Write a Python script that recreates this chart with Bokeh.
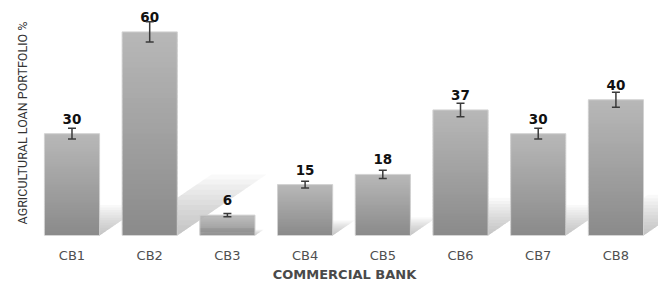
from bokeh.plotting import figure
from bokeh.models import Range1d, FixedTicker, Whisker, ColumnDataSource, TeeHead
from bokeh.core.properties import value
from bokeh.embed import file_html
from bokeh.resources import INLINE

banks = ["CB1", "CB2", "CB3", "CB4", "CB5", "CB6", "CB7", "CB8"]
portfolio = [30, 60, 6, 15, 18, 37, 30, 40]
errors = [1.6, 3.0, 0.5, 1.0, 1.2, 2.0, 1.6, 2.2]

xs = list(range(1, len(banks) + 1))
bar_w = 0.71
x0, x1 = 0.466, 8.548
y1 = 66.3

p = figure(width=658, height=284, output_backend="svg", toolbar_location=None,
           x_range=Range1d(x0, x1), y_range=Range1d(0, y1),
           min_border_left=30, min_border_right=0, min_border_top=10, min_border_bottom=46)
p.outline_line_color = None
p.grid.grid_line_color = None
p.background_fill_color = "white"
p.border_fill_color = "white"

# floor shadows (derived from bar values)
layers = 12
for k in range(1, layers + 1):
    f = k / layers
    sx, sy = [], []
    for x, v in zip(xs, portfolio):
        dx = 1.15 * v / 60 * f
        dy = 0.30 * v * f
        sx.append([x - bar_w / 2, x + bar_w / 2, x + bar_w / 2 + dx, x - bar_w / 2 + dx])
        sy.append([0, 0, dy, dy])
    p.patches(sx, sy, fill_color="#8a8a8a", fill_alpha=0.055, line_color=None)

# gradient bars, built from slices of each value
N = 40
top_c = (184, 184, 184)
bot_c = (138, 138, 138)
qx, qb, qt, qc = [], [], [], []
for x, v in zip(xs, portfolio):
    for j in range(N):
        t = (j + 0.5) / N
        c = tuple(int(round(bot_c[i] + (top_c[i] - bot_c[i]) * t)) for i in range(3))
        qx.append(x)
        qb.append(v * j / N)
        qt.append(min(v, v * (j + 1.6) / N))
        qc.append("#%02x%02x%02x" % c)
p.vbar(x=qx, bottom=qb, top=qt, width=bar_w, fill_color=qc, line_color=None)
p.vbar(x=xs, top=portfolio, width=bar_w, fill_color=None, line_color="#d2d2d2", line_width=1)

src = ColumnDataSource(dict(x=xs, top=portfolio,
                            upper=[v + e for v, e in zip(portfolio, errors)],
                            lower=[v - e for v, e in zip(portfolio, errors)],
                            lab=[str(v) for v in portfolio]))
w = Whisker(base="x", upper="upper", lower="lower", source=src, level="overlay",
            line_color="#3a3a3a", line_width=1.5,
            upper_head=TeeHead(size=8, line_color="#3a3a3a", line_width=1.5),
            lower_head=TeeHead(size=8, line_color="#3a3a3a", line_width=1.5))
p.add_layout(w)

p.text(x="x", y="top", text="lab", source=src, y_offset=-15,
       text_align="center", text_baseline="middle",
       text_font=value("DejaVu Sans"), text_font_style="bold",
       text_font_size="13.5px", text_color="#111111")

# axes
p.xaxis.ticker = FixedTicker(ticks=xs)
p.xaxis.major_label_overrides = {x: b for x, b in zip(xs, banks)}
p.xaxis.axis_line_color = None
p.xaxis.major_tick_line_color = None
p.xaxis.minor_tick_line_color = None
p.xaxis.major_tick_out = 0
p.xaxis.major_tick_in = 0
p.xaxis.major_label_standoff = 12
p.xaxis.major_label_text_font = "DejaVu Sans"
p.xaxis.major_label_text_font_size = "13px"
p.xaxis.major_label_text_color = "#505050"
p.xaxis.axis_label = "COMMERCIAL BANK"
p.xaxis.axis_label_text_font = "DejaVu Sans"
p.xaxis.axis_label_text_font_style = "bold"
p.xaxis.axis_label_text_font_size = "13px"
p.xaxis.axis_label_text_color = "#4a4a4a"
p.xaxis.axis_label_standoff = 1

p.yaxis.ticker = FixedTicker(ticks=[])
p.yaxis.axis_line_color = None
p.yaxis.major_tick_line_color = None
p.yaxis.minor_tick_line_color = None
p.yaxis.major_tick_out = 0
p.yaxis.major_tick_in = 0
p.yaxis.major_label_text_font_size = "0px"
p.yaxis.axis_label = "AGRICULTURAL LOAN PORTFOLIO %"
p.yaxis.axis_label_text_font = "Roboto"
p.yaxis.axis_label_text_font_style = "normal"
p.yaxis.axis_label_text_font_size = "12.5px"
p.yaxis.axis_label_text_color = "#333333"
p.yaxis.axis_label_standoff = 1

open("out.html", "w").write(file_html(p, INLINE))
